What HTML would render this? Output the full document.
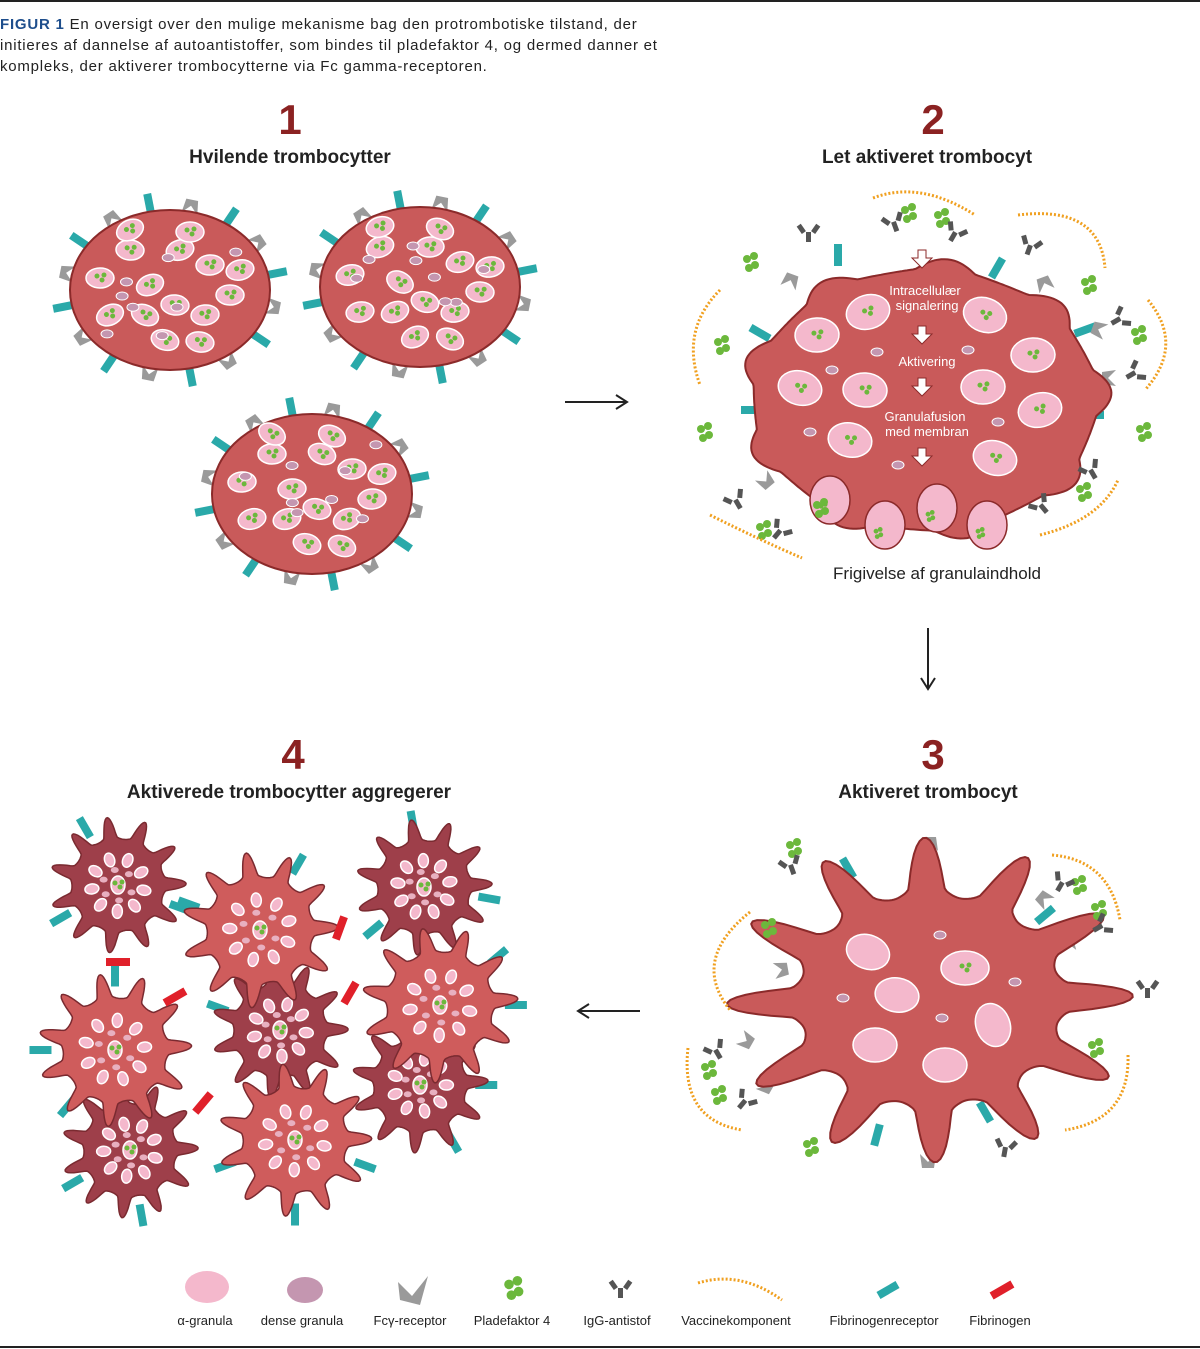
<!DOCTYPE html>
<html><head><meta charset="utf-8">
<style>
html,body{margin:0;padding:0;background:#fff;}
body{width:1200px;height:1349px;position:relative;overflow:hidden;font-family:"Liberation Sans",Arial,sans-serif;}
.cap{position:absolute;left:0;top:14px;width:720px;font-size:15px;letter-spacing:0.78px;line-height:21px;color:#222;white-space:nowrap;}
.cap b{color:#1e4e8c;}
.t{position:absolute;text-align:center;font-weight:bold;color:#222;font-size:19px;}
.n{position:absolute;text-align:center;font-weight:bold;color:#8b2222;font-size:42px;}
.lg{position:absolute;top:1313px;font-size:13px;color:#222;text-align:center;}
</style></head><body>
<div style="position:absolute;left:0;top:0;width:1200px;height:2px;background:#222"></div>
<div style="position:absolute;left:0;top:1346px;width:1200px;height:2px;background:#222"></div>
<div class="cap"><b>FIGUR 1</b> En oversigt over den mulige mekanisme bag den protrombotiske tilstand, der<br>initieres af dannelse af autoantistoffer, som bindes til pladefaktor 4, og dermed danner et<br>kompleks, der aktiverer trombocytterne via Fc gamma-receptoren.</div>
<div class="n" style="left:240px;top:96px;width:100px">1</div>
<div class="t" style="left:90px;top:147px;width:400px">Hvilende trombocytter</div>
<div class="n" style="left:883px;top:96px;width:100px">2</div>
<div class="t" style="left:727px;top:147px;width:400px">Let aktiveret trombocyt</div>
<div class="n" style="left:243px;top:731px;width:100px">4</div>
<div class="t" style="left:39px;top:782px;width:500px">Aktiverede trombocytter aggregerer</div>
<div class="n" style="left:883px;top:731px;width:100px">3</div>
<div class="t" style="left:728px;top:782px;width:400px">Aktiveret trombocyt</div>
<div style="position:absolute;left:737px;top:564px;width:400px;text-align:center;font-size:17px;color:#222">Frigivelse af granulaindhold</div>
<svg id="s" width="1200" height="1349" style="position:absolute;left:0;top:0">
<g id="g"></g>
<g font-family="Liberation Sans,Arial,sans-serif" font-size="13" fill="#fff" text-anchor="middle">
<text x="925" y="295">Intracellulær</text><text x="927" y="310">signalering</text>
<text x="927" y="366">Aktivering</text>
<text x="925" y="421">Granulafusion</text><text x="927" y="436">med membran</text>
</g>
<g stroke="#222" stroke-width="2" fill="none">
<path d="M565 402H626M616 395L627 402L616 409"/>
<path d="M928 628V688M921 678L928 689L935 678"/>
<path d="M640 1011H579M589 1004L578 1011L589 1018"/>
</g>
</svg>
<div class="lg" style="left:160px;width:90px">α-granula</div>
<div class="lg" style="left:252px;width:100px">dense granula</div>
<div class="lg" style="left:360px;width:100px">Fcγ-receptor</div>
<div class="lg" style="left:462px;width:100px">Pladefaktor 4</div>
<div class="lg" style="left:567px;width:100px">IgG-antistof</div>
<div class="lg" style="left:666px;width:140px">Vaccinekomponent</div>
<div class="lg" style="left:814px;width:140px">Fibrinogenreceptor</div>
<div class="lg" style="left:950px;width:100px">Fibrinogen</div>
<script>
var g=document.getElementById('g'),h='';
function A(s){h+=s;}
var seed=7;function rnd(){seed=(seed*9301+49297)%233280;return seed/233280;}
function teal(x,y,a){A('<rect x="-4" y="-11" width="8" height="22" fill="#2aa9a9" transform="translate('+x+','+y+') rotate('+a+')"/>');}
function red(x,y,a){A('<rect x="-4" y="-12" width="8" height="24" fill="#e0202a" transform="translate('+x+','+y+') rotate('+a+')"/>');}
function fc(x,y,a){A('<path d="M-8 -6L0 2L8 -6L6 8L-6 8Z" fill="#9a9a9a" transform="translate('+x+','+y+') rotate('+a+')"/>');}
function pf(x,y,s){s=s||1;A('<g fill="#6cb83c" transform="translate('+x+','+y+') scale('+s+')"><circle cx="-5" cy="-3" r="4"/><circle cx="2" cy="-6" r="4"/><circle cx="3" cy="3" r="4"/><circle cx="-3" cy="6" r="4"/></g>');}
function igg(x,y,a){A('<g fill="#555" transform="translate('+x+','+y+') rotate('+a+')"><rect x="-2" y="0" width="5" height="10"/><rect x="-9" y="-8" width="5" height="9" transform="rotate(-35 -6 -3)"/><rect x="5" y="-8" width="5" height="9" transform="rotate(35 7 -3)"/></g>');}
function vac(x,y,pts){var d='M'+x+' '+y;for(var i=0;i<pts.length;i++)d+=' Q'+pts[i].join(' ');A('<path d="'+d+'" fill="none" stroke="#f0a020" stroke-width="3" stroke-dasharray="2 2"/>');}
function agr(x,y,rx,ry,a,dots){A('<g transform="translate('+x+','+y+') rotate('+a+')"><ellipse rx="'+rx+'" ry="'+ry+'" fill="#f4b8cc" stroke="#fff" stroke-width="1.5"/>');if(dots){A('<circle cx="-3" cy="-2" r="2.5" fill="#6cb83c"/><circle cx="2" cy="2" r="2.5" fill="#6cb83c"/><circle cx="4" cy="-3" r="2.5" fill="#6cb83c"/>');}A('</g>');}
function den(x,y){A('<ellipse cx="'+x+'" cy="'+y+'" rx="6" ry="4" fill="#c496b0" stroke="#fff"/>');}
function rest(cx,cy){
 for(var i=0;i<16;i++){var t=i/16*6.283+0.2,x=cx+108*Math.cos(t),y=cy+87*Math.sin(t),d=t*57.3+90;if(i%2)teal(x,y,d);else fc(cx+104*Math.cos(t),cy+84*Math.sin(t),d+180);}
 A('<ellipse cx="'+cx+'" cy="'+cy+'" rx="100" ry="80" fill="#c95a5a" stroke="#8b2a2a" stroke-width="2"/>');
 var P=[[-70,-12],[-40,-40],[-20,-5],[10,-40],[40,-25],[60,5],[-60,25],[-25,25],[5,15],[35,25],[70,-20],[-5,50],[30,52],[-40,-60],[20,-58]];
 for(var i=0;i<P.length;i++)agr(cx+P[i][0],cy+P[i][1],14,10,rnd()*60-30,1);
 for(var i=0;i<8;i++)den(cx-70+rnd()*140,cy-50+rnd()*100);
}
rest(170,290);rest(420,287);rest(312,494);
function blob(cx,cy,R,n,amp,p,fill,stroke,ph,sx,sy){var d='';for(var i=0;i<=360;i++){var t=i/360*6.283,c=Math.cos(n*t+ph),r=R*(1+amp*(c>0?Math.pow(c,p):-0.15*Math.pow(-c,0.7)));var x=cx+r*Math.cos(t)*(sx||1),y=cy+r*Math.sin(t)*(sy||1);d+=(i?'L':'M')+x.toFixed(1)+' '+y.toFixed(1);}A('<path d="'+d+'Z" fill="'+fill+'" stroke="'+stroke+'" stroke-width="2"/>');}
[[838,255,0],[997,268,30],[760,333,-60],[752,410,-90],[1093,415,90],[1085,330,70]].forEach(function(v){teal(v[0],v[1],v[2]);});
[[790,282,200],[1045,285,160],[1100,330,110],[1110,378,90],[1070,460,60],[1030,485,30],[765,480,-40]].forEach(function(v){fc(v[0],v[1],v[2]);});
blob(925,400,160,9,0.08,1,'#c95a5a','#8b2a2a',0.5,1.08,0.82);
[[830,500],[885,525],[937,508],[987,525]].forEach(function(v){A('<ellipse cx="'+v[0]+'" cy="'+v[1]+'" rx="20" ry="24" fill="#f4b8cc" stroke="#8b2a2a" stroke-width="1.5"/>');pf(v[0]-6,v[1]+8,0.6);});
[[817,335],[868,312],[985,315],[1033,355],[800,388],[865,390],[983,387],[1040,410],[850,440],[995,458]].forEach(function(v){agr(v[0],v[1],22,17,rnd()*40-20,1);});
[[877,352],[832,370],[810,432],[898,465],[968,350],[998,422]].forEach(function(v){den(v[0],v[1]);});
[[922,262],[922,338],[922,390],[922,460]].forEach(function(v){A('<path d="M'+(v[0]-4)+' '+(v[1]-12)+'h8v8h6l-10 10l-10 -10h6z" fill="#fff" stroke="#8b2a2a"/>');});
[[752,262],[723,345],[706,432],[1090,285],[1140,335],[1145,432],[1085,492],[765,530],[822,508],[910,213],[943,218]].forEach(function(v){pf(v[0],v[1],1);});
[[808,232,0],[893,222,-20],[955,232,30],[1030,245,20],[1120,318,60],[1135,372,60],[1090,470,-30],[1040,505,-40],[735,500,-30],[780,530,40]].forEach(function(v){igg(v[0],v[1],v[2]);});
vac(873,198,[[920,180,975,215]]);vac(1018,215,[[1100,205,1105,268]]);vac(720,290,[[680,330,700,385]]);vac(1148,300,[[1185,345,1145,390]]);vac(710,515,[[760,540,802,558]]);vac(1040,535,[[1100,520,1118,480]]);
// cell 3
[[848,868,-30],[1060,1060,60],[985,1112,-30],[877,1135,15],[1045,915,50]].forEach(function(v){teal(v[0],v[1],v[2]);});
[[930,845,180],[1045,900,130],[1075,940,120],[780,970,-100],[745,1040,-60],[765,1085,-60],[928,1160,0]].forEach(function(v){fc(v[0],v[1],v[2]);});
blob(930,1000,112,12,0.45,1.2,'#c95a5a','#8b2a2a',0.3,1.25,1.0);
[[868,952,20],[897,995,10],[875,1045,0],[945,1065,0],[993,1025,70]].forEach(function(v){agr(v[0],v[1],22,17,v[2],0);});
agr(965,968,24,17,0,1);
[[940,935],[843,998],[942,1018],[1015,982]].forEach(function(v){den(v[0],v[1]);});
[[795,848],[770,928],[1080,885],[1100,910],[710,1070],[720,1095],[1097,1048],[812,1147]].forEach(function(v){pf(v[0],v[1],1);});
[[790,865,-20],[1062,882,30],[1102,925,60],[1147,988,0],[715,1050,-30],[745,1100,40],[1005,1147,10]].forEach(function(v){igg(v[0],v[1],v[2]);});
vac(750,912,[[690,960,730,1010]]);vac(1052,855,[[1110,860,1120,920]]);vac(688,1048,[[680,1120,742,1130]]);vac(1128,1055,[[1130,1120,1065,1130]]);
// aggregate
function spiky(cx,cy,R,fill,ph,ts){var n=11;var d='';for(var i=0;i<=360;i++){var t=i/360*6.283,c=Math.cos(n*t+ph),r=R*(1+0.42*(c>0?Math.pow(c,1.4):-0.1*Math.pow(-c,0.7)));d+=(i?'L':'M')+(cx+r*Math.cos(t)).toFixed(1)+' '+(cy+r*Math.sin(t)).toFixed(1);}
 ts.forEach(function(a){var t=a/57.3;teal(cx+R*1.38*Math.cos(t),cy+R*1.38*Math.sin(t),a+90);});
 A('<path d="'+d+'Z" fill="'+fill+'" stroke="#7a2a30" stroke-width="1.5"/>');
 for(var k=0;k<9;k++){var a=k/9*6.283+ph,rr=R*0.55;agr(cx+rr*Math.cos(a),cy+rr*Math.sin(a),7,5,a*57.3,0);}
 agr(cx,cy,7,9,0,1);for(var k=0;k<6;k++){var e=k+0.5;A('<ellipse cx="'+(cx+R*0.32*Math.cos(e))+'" cy="'+(cy+R*0.32*Math.sin(e))+'" rx="4" ry="3" fill="#e8b0c0"/>');}
}
var D='#9e3f4a',L='#cf5c5c';
spiky(118,885,48,D,0.2,[-120,20,150]);
spiky(424,887,48,D,0.5,[-100,10,140]);
spiky(280,1030,48,D,0.1,[200,80]);
spiky(420,1085,48,D,0.7,[60,0]);
spiky(130,1150,48,D,0.3,[150,80]);
spiky(260,930,55,L,0.4,[-60,200]);
spiky(440,1005,55,L,0.9,[0,-40]);
spiky(115,1050,54,L,0.6,[180,130,-90]);
spiky(295,1140,54,L,0.2,[90,20,160]);
[[118,962,90],[340,928,20],[175,997,60],[350,993,30],[203,1103,40]].forEach(function(v){red(v[0],v[1],v[2]);});
// legend
A('<ellipse cx="207" cy="1287" rx="22" ry="16" fill="#f4b8cc"/>');
A('<ellipse cx="305" cy="1290" rx="18" ry="13" fill="#c496b0"/>');
A('<path d="M398 1282L412 1296L428 1276L420 1305L400 1300Z" fill="#9a9a9a"/>');
pf(515,1288,1.2);igg(620,1288,0);
vac(698,1283,[[740,1270,782,1300]]);
teal(888,1290,60);red(1002,1290,60);
g.innerHTML=h;
</script>
</body></html>
